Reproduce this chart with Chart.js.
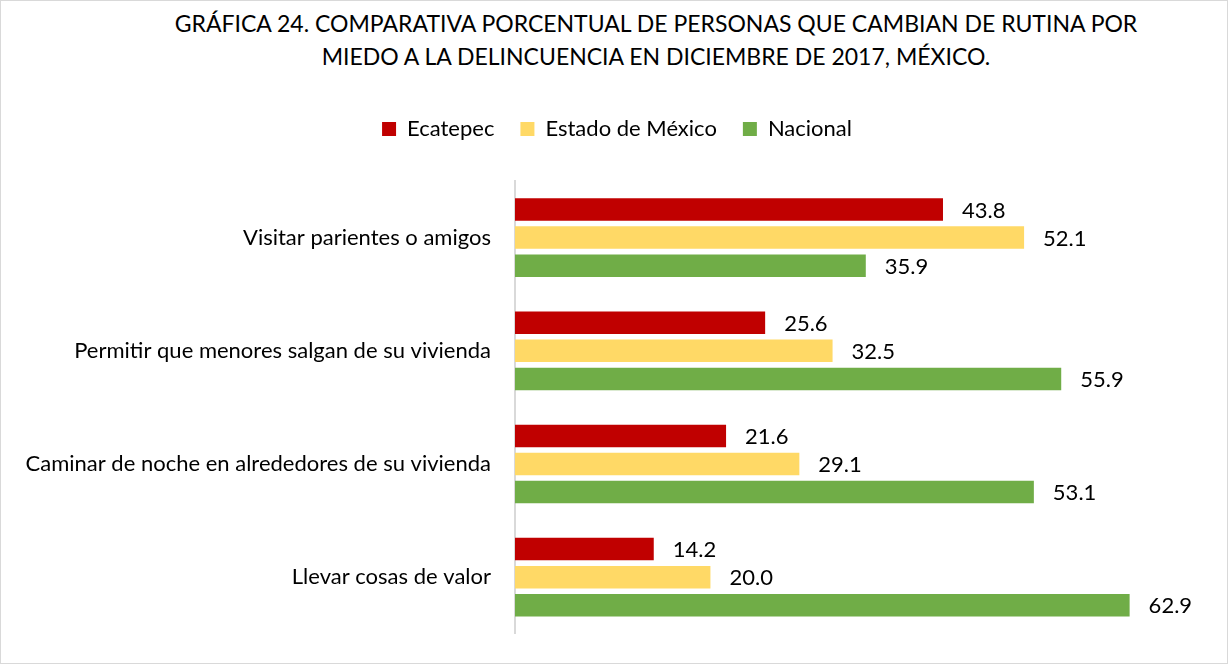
<!DOCTYPE html>
<html>
<head>
<meta charset="utf-8">
<script src="https://cdn.jsdelivr.net/npm/chart.js@4.4.1/dist/chart.umd.min.js"></script>
<style>
  html, body { margin: 0; padding: 0; background: #fff; }
  #wrap { position: relative; width: 1226px; height: 662px; border: 1px solid #d9d9d9; }
  #title {
    position: absolute; left: 80px; width: 1150px; top: 6px;
    text-align: center; font-family: Lato, sans-serif; font-size: 23px;
    line-height: 33px; color: #000;
  }
  canvas { position: absolute; left: 0; top: 0; }
</style>
</head>
<body>
<div id="wrap">
  <div id="title">GRÁFICA 24. COMPARATIVA PORCENTUAL DE PERSONAS QUE CAMBIAN DE RUTINA POR<br>MIEDO A LA DELINCUENCIA EN DICIEMBRE DE 2017, MÉXICO.</div>
  <canvas id="chart" width="1226" height="662"></canvas>
</div>
<script>
// Categories and series
const categories = [
  "Visitar parientes o amigos",
  "Permitir que menores salgan de su vivienda",
  "Caminar de noche en alrededores de su vivienda",
  "Llevar cosas de valor"
];
const ecatepec = [43.8, 25.6, 21.6, 14.2];
const estadoMexico = [52.1, 32.5, 29.1, 20.0];
const nacional = [35.9, 55.9, 53.1, 62.9];

const FONT = "Lato, sans-serif";

// draws the value next to each bar end
const valueLabels = {
  id: 'valueLabels',
  afterDatasetsDraw(chart) {
    const ctx = chart.ctx;
    ctx.save();
    ctx.font = "22px " + FONT;
    ctx.fillStyle = "#000";
    ctx.textAlign = "left";
    ctx.textBaseline = "middle";
    chart.data.datasets.forEach((ds, i) => {
      chart.getDatasetMeta(i).data.forEach((bar, j) => {
        ctx.fillText(ds.data[j].toFixed(1), bar.x + 19, bar.y + 1);
      });
    });
    ctx.restore();
  }
};

// leave some room under the legend, and nudge it a bit to the right
const legendGap = {
  id: 'legendGap',
  beforeInit(chart) {
    const fit = chart.legend.fit;
    chart.legend.fit = function () {
      fit.call(this);
      this.height += 31;
    };
  },
  afterLayout(chart) {
    chart.legend.left += 17;
    chart.legend.right += 17;
  }
};

new Chart(document.getElementById('chart'), {
  type: 'bar',
  data: {
    labels: categories,
    datasets: [
      { label: "Ecatepec", data: ecatepec, backgroundColor: "#C00000" },
      { label: "Estado de México", data: estadoMexico, backgroundColor: "#FFD966" },
      { label: "Nacional", data: nacional, backgroundColor: "#70AD47" }
    ]
  },
  options: {
    indexAxis: 'y',
    responsive: false,
    animation: false,
    categoryPercentage: 0.745,
    barPercentage: 0.8,
    layout: { padding: { top: 91, bottom: 14, right: 28, left: 0 } },
    scales: {
      x: { display: false, min: 0, max: 70 },
      y: {
        grid: { display: false },
        border: { display: true, color: "#d9d9d9", width: 2 },
        ticks: { color: "#000", font: { family: FONT, size: 22 }, padding: 16 },
        afterFit(axis) { axis.width = 514; }
      }
    },
    plugins: {
      legend: {
        position: 'top',
        labels: {
          color: "#000",
          font: { family: FONT, size: 22 },
          boxWidth: 14, boxHeight: 14,
          padding: 26
        }
      },
      tooltip: { enabled: false }
    }
  },
  plugins: [valueLabels, legendGap]
});
</script>
</body>
</html>
